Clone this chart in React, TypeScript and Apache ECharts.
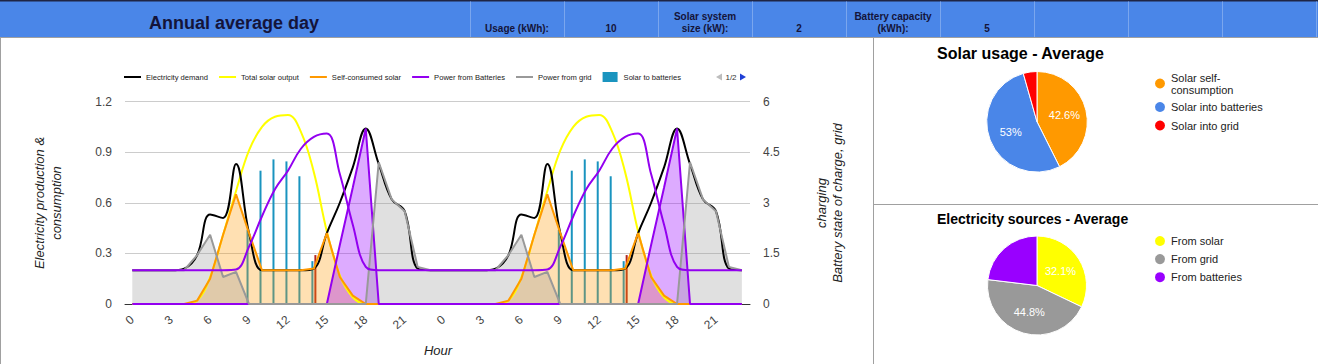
import React, { useEffect, useRef } from 'react';
import * as echarts from 'echarts';

// ---- data (one average day, shown twice) ----
const xTickHours = [0, 3, 6, 9, 12, 15, 18, 21, 24, 27, 30, 33, 36, 39, 42, 45];
const demandDay = [0.2, 0.2, 0.2, 0.2, 0.21, 0.29, 0.53, 0.51, 0.83, 0.42, 0.2, 0.2, 0.2, 0.2, 0.21, 0.42, 0.6, 0.81, 1.04, 0.83, 0.62, 0.55, 0.21, 0.2];
const solarDay = [0, 0, 0, 0, 0, 0.02, 0.16, 0.41, 0.67, 0.91, 1.05, 1.11, 1.12, 1.02, 0.78, 0.43, 0.17, 0.04, 0, 0, 0, 0, 0, 0];
const selfConsumedDay = [0, 0, 0, 0, 0, 0.02, 0.15, 0.41, 0.65, 0.42, 0.2, 0.2, 0.2, 0.2, 0.21, 0.42, 0.16, 0.05, 0, 0, 0, 0, 0, 0];
const batteryOutDay = [0, 0, 0, 0, 0, 0, 0, 0, 0, 0, 0, 0, 0, 0, 0, 0, 0.35, 0.69, 1.04, 0, 0, 0, 0, 0];
const gridDay = [0.2, 0.2, 0.2, 0.2, 0.2, 0.29, 0.41, 0.16, 0.19, 0, 0, 0, 0, 0, 0, 0, 0, 0, 0, 0.84, 0.62, 0.55, 0.22, 0.2];
const socDay = [1, 1, 1, 1, 1, 1, 1, 1, 1.02, 1.7, 2.6, 3.4, 3.95, 4.6, 4.95, 5.05, 3.85, 2.35, 1.1, 1, 1, 1, 1, 1];
const solarToBattDay = [0, 0, 0, 0, 0, 0, 0, 0, 0, 0.44, 0.79, 0.857, 0.845, 0.757, 0.254, 0, 0, 0, 0, 0, 0, 0, 0, 0];
const solarToGridDay = [0, 0, 0, 0, 0, 0, 0, 0, 0, 0, 0, 0, 0, 0, 0.29, 0, 0, 0, 0, 0, 0, 0, 0, 0];

const legendPage1 = ['Electricity demand', 'Total solar output', 'Self-consumed solar', 'Power from Batteries', 'Power from grid', 'Solar to batteries'];

const solarUsageNames = ['Solar self-consumption', 'Solar into batteries', 'Solar into grid'];
const solarUsageValues = [42.6, 53.0, 4.4];
const sourceNames = ['From solar', 'From grid', 'From batteries'];
const sourceValues = [32.1, 44.8, 23.1];

const headerLabels = ['Usage (kWh):', 'Solar system\nsize (kW):', 'Battery capacity\n(kWh):'];
const headerValues = ['10', '2', '5'];

const FONT = 'Arial, "Liberation Sans", sans-serif';
const twoDays = (a: number[]) => [...a, ...a];
const pairs = (a: number[]) => twoDays(a).map((v, i) => [i, v]);

const lineIcon = 'path://M0,0h17v2h-17z';
const boxIcon = 'path://M0,0h15v10h-15z';

function buildOption() {
  const lineBase = { type: 'line', symbol: 'none', showSymbol: false, xAxisIndex: 0 };
  const header: any[] = [
    { type: 'rect', shape: { x: 0, y: 0, width: 1318, height: 37 }, style: { fill: '#4a86e8' } },
    { type: 'rect', shape: { x: 0, y: 0, width: 1318, height: 1.5 }, style: { fill: '#1f2544' } },
    { type: 'line', shape: { x1: 0, y1: 37.5, x2: 1318, y2: 37.5 }, style: { stroke: '#a0a0a0', lineWidth: 1 } },
    { type: 'line', shape: { x1: 0.5, y1: 38, x2: 0.5, y2: 364 }, style: { stroke: '#a0a0a0', lineWidth: 1 } },
    { type: 'line', shape: { x1: 873.5, y1: 38, x2: 873.5, y2: 364 }, style: { stroke: '#a0a0a0', lineWidth: 1 } },
    { type: 'line', shape: { x1: 874, y1: 204.5, x2: 1318, y2: 204.5 }, style: { stroke: '#a0a0a0', lineWidth: 1 } },
  ];
  [470, 564, 658, 752, 846, 940, 1034, 1128, 1222, 1316].forEach((x) => {
    header.push({ type: 'line', shape: { x1: x + 0.5, y1: 1.5, x2: x + 0.5, y2: 37 }, style: { stroke: '#7aa6ee', lineWidth: 1 } });
  });
  header.push({
    type: 'text', x: 234, y: 23,
    style: { text: 'Annual average day', fontSize: 18, fontWeight: 'bold', fontFamily: FONT, fill: '#14143a', align: 'center', verticalAlign: 'middle' },
  });
  headerLabels.forEach((t, i) => {
    const cx = 517 + i * 188;
    const twoLine = t.indexOf('\n') >= 0;
    header.push({
      type: 'text', x: cx, y: twoLine ? 22 : 28,
      style: { text: t, fontSize: 10, fontWeight: 'bold', fontFamily: FONT, fill: '#14143a', align: 'center', verticalAlign: 'middle', lineHeight: 12 },
    });
    header.push({
      type: 'text', x: cx + 94, y: 28,
      style: { text: headerValues[i], fontSize: 10, fontWeight: 'bold', fontFamily: FONT, fill: '#14143a', align: 'center', verticalAlign: 'middle' },
    });
  });
  // legend pager (page 1 of 2)
  header.push({ type: 'polygon', shape: { points: [[716, 77], [722, 73.5], [722, 80.5]] }, style: { fill: '#bdbdbd' } });
  header.push({
    type: 'text', x: 731, y: 77,
    style: { text: '1/2', fontSize: 8, fontFamily: FONT, fill: '#333', align: 'center', verticalAlign: 'middle' },
  });
  header.push({ type: 'polygon', shape: { points: [[740, 73.5], [746, 77], [740, 80.5]] }, style: { fill: '#1f3fd6' } });
  // axis titles
  header.push({
    type: 'text', x: 48, y: 203, rotation: Math.PI / 2,
    style: { text: 'Electricity production &\nconsumption', fontSize: 13, fontStyle: 'italic', fontFamily: FONT, fill: '#222', align: 'center', verticalAlign: 'middle', lineHeight: 17 },
  });
  header.push({
    type: 'text', x: 837, y: 203, rotation: Math.PI / 2,
    style: { text: 'Battery state of charge, grid', fontSize: 13, fontStyle: 'italic', fontFamily: FONT, fill: '#222', align: 'center', verticalAlign: 'middle' },
  });
  header.push({
    type: 'text', x: 821, y: 203, rotation: Math.PI / 2,
    style: { text: 'charging', fontSize: 13, fontStyle: 'italic', fontFamily: FONT, fill: '#222', align: 'center', verticalAlign: 'middle' },
  });
  header.push({
    type: 'text', x: 438, y: 350,
    style: { text: 'Hour', fontSize: 13, fontStyle: 'italic', fontFamily: FONT, fill: '#222', align: 'center', verticalAlign: 'middle' },
  });

  const pieLegendBase = {
    orient: 'vertical', left: 1153, padding: 0, itemWidth: 12, itemHeight: 12, icon: 'circle', selectedMode: false,
    textStyle: { fontSize: 11, color: '#222', lineHeight: 12, fontFamily: FONT },
  };

  return {
    animation: false,
    textStyle: { fontFamily: FONT },
    graphic: header,
    title: [
      { text: 'Solar usage - Average', left: 937, top: 45, padding: 0, textStyle: { fontSize: 16, fontWeight: 'bold', color: '#000', fontFamily: FONT } },
      { text: 'Electricity sources - Average', left: 937, top: 212, padding: 0, textStyle: { fontSize: 14, fontWeight: 'bold', color: '#000', fontFamily: FONT } },
    ],
    legend: [
      {
        left: 124, top: 72, padding: 0, itemGap: 11, itemWidth: 17, itemHeight: 10,
        selectedMode: false,
        textStyle: { fontSize: 7.6, color: '#222', fontFamily: FONT },
        data: legendPage1.map((n) => ({ name: n, icon: n === 'Solar to batteries' ? boxIcon : lineIcon })),
      },
      {
        ...pieLegendBase, top: 71.5, itemGap: 4.5, data: solarUsageNames,
        formatter: (n: string) => (n === 'Solar self-consumption' ? 'Solar self-\nconsumption' : n),
      },
      { ...pieLegendBase, top: 234, itemGap: 4.1, data: sourceNames },
    ],
    grid: { left: 125, right: 568, top: 101.5, bottom: 60 },
    xAxis: {
      type: 'value', min: -0.563, max: 47.625,
      axisLine: { show: true, lineStyle: { color: '#333', width: 1 } },
      axisTick: { show: false },
      splitLine: { show: false },
      axisLabel: {
        customValues: xTickHours, rotate: 40, margin: 14, fontSize: 12, color: '#444',
        formatter: (v: number) => String(Math.round(v) % 24),
      },
    },
    yAxis: [
      {
        type: 'value', min: 0, max: 1.2, interval: 0.3,
        axisLine: { show: false }, axisTick: { show: false },
        splitLine: { lineStyle: { color: '#cccccc' } },
        axisLabel: { fontSize: 12, color: '#444', margin: 13, formatter: (v: number) => String(+v.toFixed(1)) },
      },
      {
        type: 'value', min: 0, max: 6, interval: 1.5,
        axisLine: { show: false }, axisTick: { show: false }, splitLine: { show: false },
        axisLabel: { fontSize: 12, color: '#444', margin: 13 },
      },
    ],
    series: [
      { ...lineBase, name: 'Total solar output', smooth: 0.4, data: pairs(solarDay), lineStyle: { width: 2, color: '#ffff00' }, itemStyle: { color: '#ffff00' } },
      { ...lineBase, name: 'Electricity demand', smooth: 0.4, data: pairs(demandDay), lineStyle: { width: 2, color: '#000' }, itemStyle: { color: '#000' } },
      { ...lineBase, name: 'Self-consumed solar', data: pairs(selfConsumedDay), lineStyle: { width: 2, color: '#ff9900' }, itemStyle: { color: '#ff9900' }, areaStyle: { color: '#ff9900', opacity: 0.3 } },
      { ...lineBase, name: 'Power from Batteries', data: pairs(batteryOutDay), lineStyle: { width: 2, color: '#9300f0' }, itemStyle: { color: '#9300f0' }, areaStyle: { color: '#9900ff', opacity: 0.33 } },
      { ...lineBase, name: 'Power from grid', data: pairs(gridDay), lineStyle: { width: 2, color: '#999999' }, itemStyle: { color: '#999999' }, areaStyle: { color: '#999999', opacity: 0.3 } },
      { ...lineBase, name: 'Battery state of charge', yAxisIndex: 1, smooth: 0.4, data: pairs(socDay), lineStyle: { width: 2, color: '#9300f0' }, itemStyle: { color: '#9300f0' } },
      { type: 'bar', name: 'Solar to batteries', data: pairs(solarToBattDay), barWidth: 2, barGap: '50%', itemStyle: { color: '#1a94bf' } },
      { type: 'bar', name: 'Solar to grid', data: pairs(solarToGridDay), barWidth: 2, barGap: '50%', itemStyle: { color: '#b3261e' } },
      {
        type: 'pie', name: 'Solar usage', center: [1037, 121.8], radius: 50.3, startAngle: 90, clockwise: true,
        itemStyle: { borderColor: '#fff', borderWidth: 1 },
        label: { show: true, position: 'inside', color: '#fff', fontSize: 11, fontFamily: FONT, formatter: (p: any) => p.value + '%' },
        labelLine: { show: false }, emphasis: { disabled: true },
        data: solarUsageNames.map((n, i) => ({
          name: n, value: solarUsageValues[i],
          itemStyle: { color: ['#ff9900', '#4a86e8', '#ff0000'][i] },
          label: i === 2 ? { show: false } : undefined,
        })),
      },
      {
        type: 'pie', name: 'Electricity sources', center: [1037, 285.5], radius: 49.5, startAngle: 90, clockwise: true,
        itemStyle: { borderColor: '#fff', borderWidth: 1 },
        label: { show: true, position: 'inside', color: '#fff', fontSize: 11, fontFamily: FONT, formatter: (p: any) => p.value + '%' },
        labelLine: { show: false }, emphasis: { disabled: true },
        data: sourceNames.map((n, i) => ({
          name: n, value: sourceValues[i],
          itemStyle: { color: ['#ffff00', '#999999', '#9900ff'][i] },
          label: i === 2 ? { show: false } : undefined,
        })),
      },
    ],
  };
}

export default function App() {
  const ref = useRef<HTMLDivElement>(null);
  useEffect(() => {
    document.body.style.margin = '0';
    const chart = echarts.init(ref.current as HTMLDivElement, null, { renderer: 'svg' });
    chart.setOption(buildOption() as any);
    return () => chart.dispose();
  }, []);
  return <div ref={ref} style={{ width: 1318, height: 364, background: '#fff' }} />;
}
